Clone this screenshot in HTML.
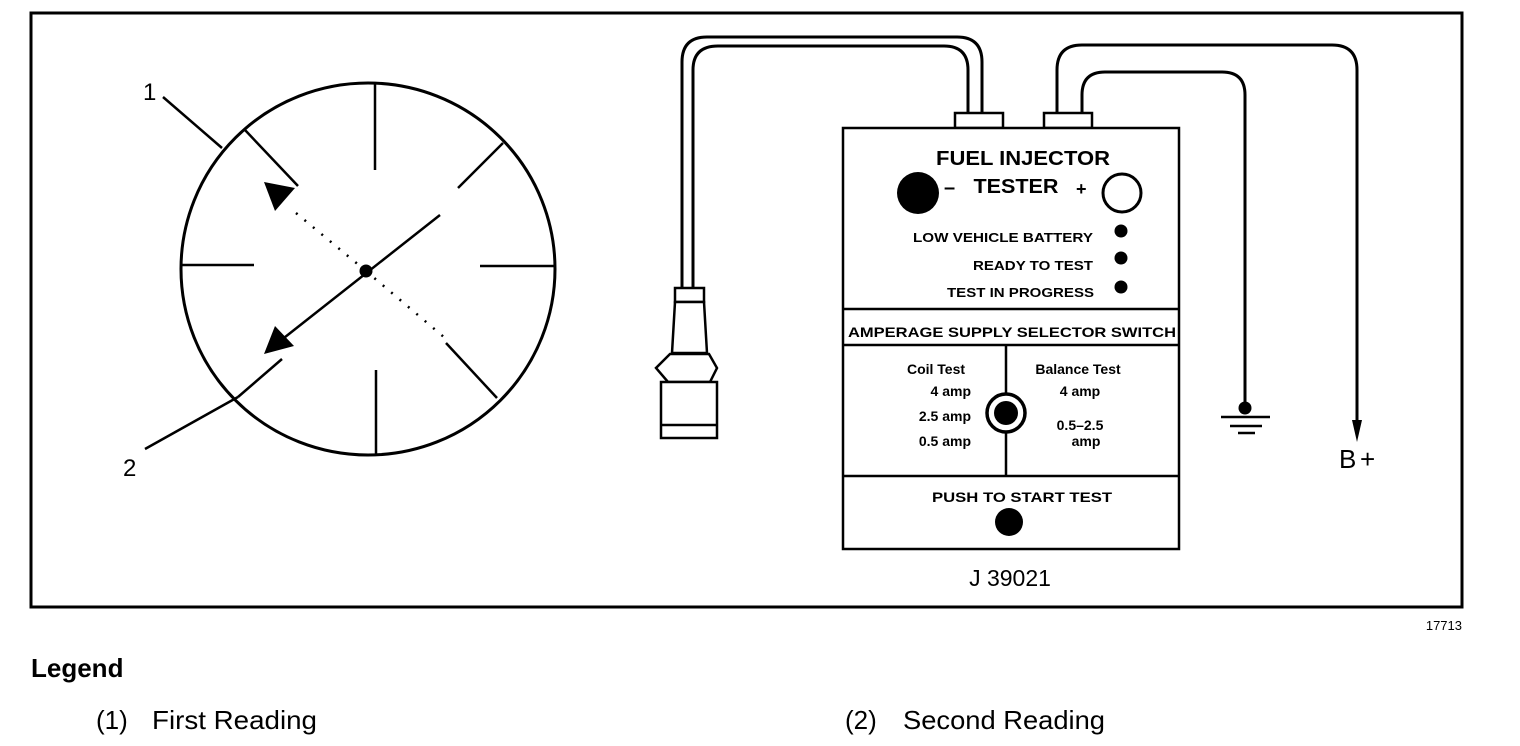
<!DOCTYPE html>
<html><head><meta charset="utf-8"><style>
html,body{margin:0;padding:0;background:#fff}
svg{display:block}
text{font-family:"Liberation Sans",Arial,sans-serif;fill:#000}
.b{font-weight:bold}
</style></head><body>
<svg width="1520" height="746" viewBox="0 0 1520 746" xmlns="http://www.w3.org/2000/svg">
<rect x="31" y="13" width="1431" height="594" fill="none" stroke="#000" stroke-width="3"/>

<!-- gauge -->
<ellipse cx="368" cy="269" rx="187" ry="186" fill="none" stroke="#000" stroke-width="3"/>
<g stroke="#000" stroke-width="2.5" fill="none">
<line x1="375" y1="83" x2="375" y2="170"/>
<line x1="376" y1="370" x2="376" y2="455"/>
<line x1="181" y1="265" x2="254" y2="265"/>
<line x1="480" y1="266" x2="556" y2="266"/>
<line x1="245" y1="130" x2="298" y2="186"/>
<line x1="503" y1="143" x2="458" y2="188"/>
<line x1="446" y1="343" x2="497" y2="398"/>
<line x1="440" y1="215" x2="275" y2="345"/>
<line x1="282" y1="359" x2="238" y2="397"/>
<line x1="238" y1="397" x2="145" y2="449"/>
<line x1="163" y1="97" x2="222" y2="148"/>
<line x1="296" y1="213" x2="366" y2="271" stroke-dasharray="2 9"/>
<line x1="366" y1="271" x2="445" y2="338" stroke-dasharray="2 9"/>
</g>
<circle cx="366" cy="271" r="6.5" fill="#000"/>
<polygon points="264,354 275,326 294,346" fill="#000"/>
<polygon points="264,182 275,211 295,188" fill="#000"/>
<text x="143" y="100" font-size="24">1</text>
<text x="123" y="476" font-size="24">2</text>

<!-- cables -->
<g stroke="#000" stroke-width="3" fill="none">
<path d="M982,113 V62 Q982,37 957,37 H707 Q682,37 682,62 V288"/>
<path d="M968,113 V70 Q968,46 944,46 H718 Q693,46 693,70 V288"/>
<path d="M1057,113 V70 Q1057,45 1082,45 H1332 Q1357,45 1357,70 V425"/>
<path d="M1082,113 V95 Q1082,72 1105,72 H1222 Q1245,72 1245,95 V408"/>
</g>
<polygon points="1352,420 1362,420 1357,442" fill="#000"/>
<circle cx="1245" cy="408" r="6.5" fill="#000"/>
<g stroke="#000" stroke-width="2.5">
<line x1="1221" y1="417" x2="1270" y2="417"/>
<line x1="1230" y1="426" x2="1262" y2="426"/>
<line x1="1238" y1="433" x2="1255" y2="433"/>
</g>
<text x="1339" y="468" font-size="26">B</text>
<text x="1360" y="468" font-size="26">+</text>

<!-- plug -->
<g stroke="#000" stroke-width="2.5" fill="#fff">
<rect x="675" y="288" width="29" height="14"/>
<polygon points="675,302 704,302 707,353 672,353"/>
<polygon points="670,354 709,354 717,368 710,382 668,382 656,368"/>
<rect x="661" y="382" width="56" height="56"/>
<line x1="661" y1="425" x2="717" y2="425"/>
</g>

<!-- tester -->
<g stroke="#000" stroke-width="2.5" fill="#fff">
<rect x="955" y="113" width="48" height="15"/>
<rect x="1044" y="113" width="48" height="15"/>
<rect x="843" y="128" width="336" height="421"/>
<line x1="843" y1="309" x2="1179" y2="309"/>
<line x1="843" y1="345" x2="1179" y2="345"/>
<line x1="843" y1="476" x2="1179" y2="476"/>
<line x1="1006" y1="345" x2="1006" y2="476"/>
</g>
<text x="1023" y="165" font-size="20" class="b" text-anchor="middle" textLength="174" lengthAdjust="spacingAndGlyphs">FUEL INJECTOR</text>
<text x="1016" y="193" font-size="20" class="b" text-anchor="middle" textLength="85" lengthAdjust="spacingAndGlyphs">TESTER</text>
<text x="944" y="194" font-size="20" class="b">–</text>
<text x="1076" y="195" font-size="18" class="b">+</text>
<circle cx="918" cy="193" r="21" fill="#000"/>
<circle cx="1122" cy="193" r="19" fill="none" stroke="#000" stroke-width="3"/>
<g font-size="13" class="b" text-anchor="end">
<text x="1093" y="242" textLength="180" lengthAdjust="spacingAndGlyphs">LOW VEHICLE BATTERY</text>
<text x="1093" y="270" textLength="120" lengthAdjust="spacingAndGlyphs">READY TO TEST</text>
<text x="1094" y="297" textLength="147" lengthAdjust="spacingAndGlyphs">TEST IN PROGRESS</text>
</g>
<circle cx="1121" cy="231" r="6.5" fill="#000"/>
<circle cx="1121" cy="258" r="6.5" fill="#000"/>
<circle cx="1121" cy="287" r="6.5" fill="#000"/>
<text x="1012" y="337" font-size="14" class="b" text-anchor="middle" textLength="328" lengthAdjust="spacingAndGlyphs">AMPERAGE SUPPLY SELECTOR SWITCH</text>
<g font-size="14" class="b">
<text x="936" y="374" text-anchor="middle">Coil Test</text>
<text x="971" y="396" text-anchor="end">4 amp</text>
<text x="971" y="421" text-anchor="end">2.5 amp</text>
<text x="971" y="446" text-anchor="end">0.5 amp</text>
<text x="1078" y="374" text-anchor="middle">Balance Test</text>
<text x="1080" y="396" text-anchor="middle">4 amp</text>
<text x="1080" y="430" text-anchor="middle">0.5–2.5</text>
<text x="1086" y="446" text-anchor="middle">amp</text>
<text x="1022" y="502" text-anchor="middle" textLength="180" lengthAdjust="spacingAndGlyphs">PUSH TO START TEST</text>
</g>
<circle cx="1006" cy="413" r="19" fill="#fff" stroke="#000" stroke-width="3.5"/>
<circle cx="1006" cy="413" r="12" fill="#000"/>
<circle cx="1009" cy="522" r="14" fill="#000"/>
<text x="1010" y="586" font-size="23" text-anchor="middle">J 39021</text>
<text x="1462" y="630" font-size="13" text-anchor="end">17713</text>

<text x="31" y="677" font-size="26" class="b">Legend</text>
<text x="96" y="729" font-size="26">(1)</text>
<text x="152" y="729" font-size="26" textLength="165" lengthAdjust="spacingAndGlyphs">First Reading</text>
<text x="845" y="729" font-size="26">(2)</text>
<text x="903" y="729" font-size="26" textLength="202" lengthAdjust="spacingAndGlyphs">Second Reading</text>
</svg>
</body></html>
